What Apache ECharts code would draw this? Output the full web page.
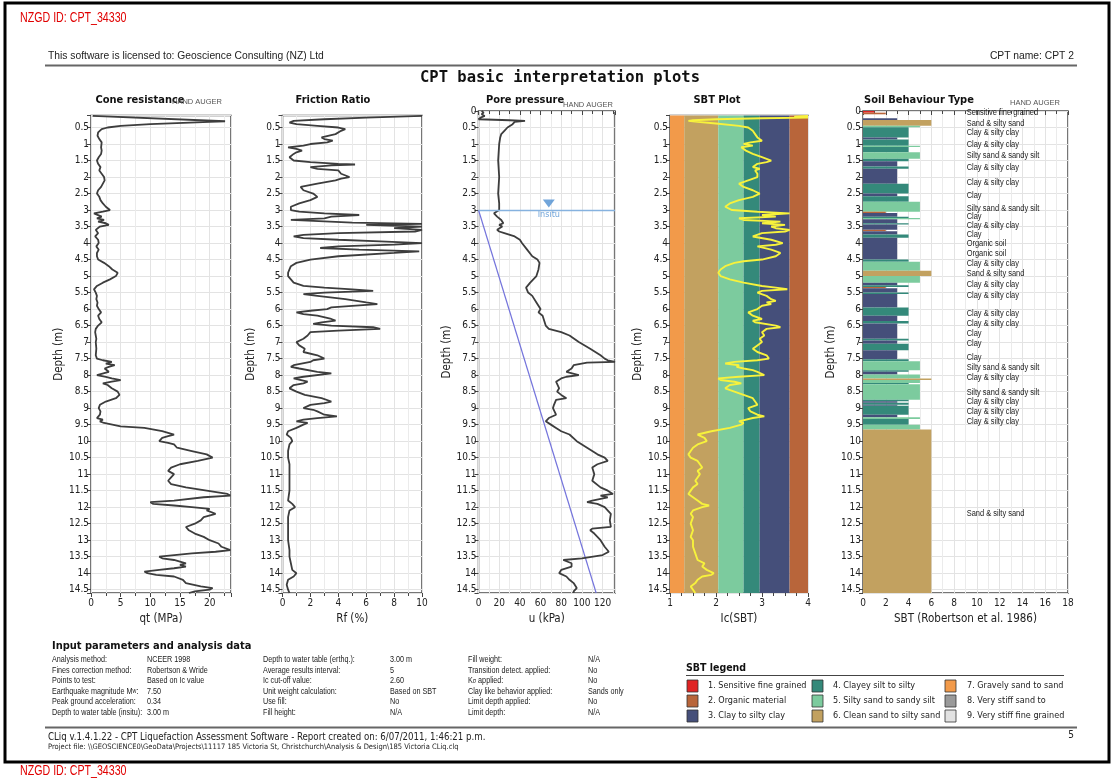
<!DOCTYPE html>
<html><head><meta charset="utf-8">
<script src="https://cdn.jsdelivr.net/npm/echarts@6.0.0/dist/echarts.min.js"></script>
<style>html,body{margin:0;padding:0;background:#fff}#c{width:1115px;height:783px}</style>
</head><body><div id="c"></div>
<script>
// ---------------- DATA ----------------
// [depth (m), qt (MPa)]
const coneProfile = [[0.15,0.3],[0.19,0.6],[0.31,22.6],[0.33,20],[0.4,10],[0.45,5],[0.5,2.8],[0.55,1.8],[0.65,1.2],[0.75,1.1],[0.85,1.4],[0.95,1.8],[1.0,1.9],[1.1,1.7],[1.2,1.8],[1.3,1.7],[1.4,1.3],[1.5,1.0],[1.6,1.2],[1.7,1.6],[1.8,1.4],[1.9,1.8],[2.0,2.2],[2.1,2.3],[2.2,2.0],[2.3,1.7],[2.4,1.2],[2.5,1.0],[2.6,1.4],[2.7,1.6],[2.8,2.0],[2.9,2.5],[3.0,3.2],[3.05,2.0],[3.1,0.5],[3.2,1.8],[3.25,1.0],[3.3,2.2],[3.35,1.2],[3.4,2.5],[3.45,3.0],[3.5,1.5],[3.6,0.8],[3.7,1.2],[3.8,0.7],[3.9,1.2],[4.0,1.3],[4.1,0.9],[4.2,1.3],[4.3,1.0],[4.4,1.0],[4.5,1.2],[4.6,2.2],[4.7,3.0],[4.8,3.6],[4.9,4.5],[5.0,4.2],[5.1,3.2],[5.2,2.0],[5.3,1.0],[5.4,0.5],[5.5,0.8],[5.6,1.0],[5.7,0.9],[5.8,1.1],[5.9,1.0],[6.0,1.3],[6.1,1.7],[6.2,1.2],[6.3,1.4],[6.4,1.8],[6.5,1.2],[6.6,0.8],[6.7,0.7],[6.8,0.8],[6.9,0.9],[7.0,0.8],[7.2,0.9],[7.4,0.8],[7.5,1.0],[7.55,2.0],[7.6,3.5],[7.65,2.5],[7.7,4.0],[7.75,3.0],[7.8,2.3],[7.9,3.0],[8.0,1.0],[8.05,2.5],[8.1,3.5],[8.15,5.0],[8.2,3.5],[8.25,2.0],[8.3,2.8],[8.4,3.5],[8.5,4.5],[8.6,4.8],[8.7,4.2],[8.8,2.5],[8.9,1.5],[9.0,1.3],[9.1,1.6],[9.2,1.5],[9.3,1.0],[9.35,2.0],[9.4,1.5],[9.45,2.2],[9.5,2.0],[9.55,5.0],[9.6,9.0],[9.7,12.0],[9.8,14.0],[9.85,13.0],[9.9,12.0],[10.0,11.5],[10.05,13.0],[10.1,14.0],[10.2,14.5],[10.3,17.0],[10.4,19.5],[10.5,20.5],[10.6,18.0],[10.7,15.0],[10.8,13.5],[10.9,13.0],[11.0,14.0],[11.1,13.5],[11.2,13.0],[11.3,13.5],[11.4,16.0],[11.5,19.5],[11.6,23.0],[11.65,23.5],[11.7,19.0],[11.8,14.0],[11.85,10.0],[11.9,10.5],[11.95,14.0],[12.0,17.0],[12.05,20.0],[12.1,19.5],[12.2,21.0],[12.3,19.0],[12.4,18.5],[12.5,17.5],[12.6,16.0],[12.7,16.5],[12.8,17.5],[12.9,19.0],[13.0,20.0],[13.1,21.5],[13.2,22.0],[13.3,23.5],[13.35,21.0],[13.4,17.0],[13.5,11.5],[13.55,12.0],[13.6,14.0],[13.7,16.0],[13.75,15.0],[13.8,16.0],[13.85,14.0],[13.9,11.5],[13.95,9.0],[14.0,9.5],[14.05,11.0],[14.1,14.0],[14.2,15.5],[14.3,16.0],[14.4,18.5],[14.45,20.5],[14.5,20.0],[14.55,17.5],[14.6,16.5]];

// [depth (m), Rf (%)]
const frictionProfile = [[0.15,10],[0.2,6],[0.25,3],[0.3,0.8],[0.35,0.5],[0.4,1.0],[0.45,2.5],[0.5,4.0],[0.55,4.5],[0.6,4.2],[0.7,3.8],[0.8,2.8],[0.85,3.0],[0.9,3.6],[0.95,3.2],[1.0,2.0],[1.05,1.5],[1.1,0.4],[1.15,1.0],[1.2,1.4],[1.25,1.0],[1.3,0.8],[1.4,0.5],[1.5,0.8],[1.55,2.0],[1.6,4.0],[1.62,5.2],[1.65,3.5],[1.7,2.0],[1.75,2.5],[1.8,4.0],[1.9,4.2],[2.0,4.8],[2.05,4.2],[2.1,3.8],[2.2,2.5],[2.3,1.3],[2.4,1.5],[2.5,2.2],[2.6,2.5],[2.7,2.0],[2.8,1.2],[2.9,0.6],[3.0,0.6],[3.05,1.2],[3.1,3.0],[3.15,5.5],[3.2,3.5],[3.25,3.0],[3.3,0.6],[3.35,0.5],[3.38,5.0],[3.42,10],[3.45,6.0],[3.5,10],[3.55,8.0],[3.6,10],[3.65,9.5],[3.7,4.0],[3.75,1.5],[3.8,0.8],[3.85,1.5],[3.9,4.0],[3.95,7.0],[4.0,10],[4.05,8.0],[4.1,4.0],[4.15,2.7],[4.2,5.5],[4.25,9.8],[4.3,8.0],[4.4,4.0],[4.5,2.0],[4.6,1.0],[4.7,0.6],[4.8,0.5],[4.9,0.4],[5.0,0.4],[5.1,0.6],[5.2,0.8],[5.3,1.5],[5.35,3.0],[5.4,5.0],[5.45,6.5],[5.5,3.0],[5.55,1.5],[5.6,2.5],[5.7,4.5],[5.8,6.0],[5.85,6.8],[5.9,5.0],[5.95,3.5],[6.0,3.2],[6.05,2.0],[6.1,1.0],[6.15,1.5],[6.2,2.5],[6.3,3.5],[6.35,3.8],[6.4,2.8],[6.45,2.2],[6.5,3.5],[6.55,6.5],[6.6,7.0],[6.65,4.0],[6.7,2.0],[6.8,1.8],[6.9,1.5],[7.0,1.0],[7.1,1.2],[7.2,1.6],[7.3,1.5],[7.4,2.5],[7.5,3.0],[7.55,2.2],[7.6,2.0],[7.7,0.8],[7.75,0.6],[7.8,1.2],[7.9,2.5],[7.95,3.5],[8.0,3.6],[8.05,1.5],[8.1,0.8],[8.2,1.8],[8.25,1.5],[8.3,0.8],[8.4,0.5],[8.5,1.0],[8.6,1.6],[8.7,2.8],[8.8,3.5],[8.85,3.0],[8.9,2.0],[9.0,1.5],[9.05,2.2],[9.1,2.5],[9.2,3.0],[9.25,3.9],[9.3,2.5],[9.35,1.5],[9.4,1.0],[9.45,1.8],[9.5,1.5],[9.6,1.0],[9.7,0.4],[9.8,0.3],[9.9,0.6],[10.0,0.7],[10.1,0.5],[10.3,0.4],[10.5,0.4],[10.7,0.5],[11.0,0.5],[11.5,0.5],[11.8,0.4],[11.9,0.7],[12.0,0.9],[12.1,0.5],[12.3,0.4],[12.6,0.4],[13.0,0.4],[13.3,0.5],[13.5,0.5],[13.7,0.6],[13.9,0.7],[14.0,1.0],[14.1,0.8],[14.2,0.4],[14.35,0.3],[14.5,0.4],[14.6,0.5]];

// [depth (m), u (kPa)]
const poreProfile = [[0,3],[0.05,5],[0.1,3],[0.15,6],[0.2,2],[0.25,0],[0.28,30],[0.3,45],[0.33,35],[0.4,33],[0.5,28],[0.6,25],[0.7,22],[0.8,21],[1.0,20],[1.5,19],[2.0,20],[2.5,19],[2.8,20],[3.0,20],[3.1,15],[3.2,18],[3.3,22],[3.4,24],[3.45,20],[3.5,23],[3.6,18],[3.65,20],[3.7,25],[3.8,35],[3.9,40],[4.0,42],[4.2,47],[4.4,52],[4.5,57],[4.6,59],[4.8,58],[5.0,56],[5.2,50],[5.35,46],[5.4,45],[5.5,48],[5.6,52],[5.8,56],[6.0,60],[6.1,58],[6.2,62],[6.3,63],[6.5,65],[6.6,68],[6.7,80],[6.8,88],[7.0,97],[7.2,108],[7.4,118],[7.5,122],[7.55,125],[7.6,132],[7.62,105],[7.7,92],[7.8,90],[7.9,85],[8.0,97],[8.05,85],[8.1,80],[8.2,75],[8.4,78],[8.5,76],[8.6,80],[8.7,85],[8.75,75],[8.9,73],[9.0,72],[9.2,75],[9.3,68],[9.4,65],[9.5,70],[9.6,75],[9.7,80],[9.8,88],[10.0,95],[10.2,105],[10.4,115],[10.5,122],[10.6,125],[10.7,115],[10.8,110],[11.0,112],[11.2,110],[11.4,118],[11.5,125],[11.6,130],[11.65,118],[11.7,125],[11.8,110],[11.85,105],[11.9,115],[12.0,122],[12.2,128],[12.4,127],[12.6,128],[12.65,110],[12.7,108],[12.8,112],[13.0,118],[13.2,122],[13.35,126],[13.45,120],[13.55,100],[13.6,82],[13.7,90],[13.8,90],[13.9,80],[14.0,78],[14.1,85],[14.2,88],[14.3,92],[14.45,95],[14.55,92],[14.6,92]];
// hydrostatic line [depth, u]
const hydroLine = [[3.0,0],[14.6,113.8]];
const waterDepth = 3.0;
const insituMarker = [68, 2.8];

// [depth (m), Ic]
const icProfile = [[0.15,4.0],[0.17,3.7],[0.2,4.0],[0.22,3.0],[0.25,2.0],[0.28,1.5],[0.3,1.4],[0.33,1.6],[0.38,2.0],[0.45,2.5],[0.5,2.7],[0.6,2.8],[0.7,2.85],[0.8,2.9],[0.9,3.0],[0.95,2.75],[1.0,2.6],[1.05,2.8],[1.1,2.55],[1.2,2.65],[1.3,2.8],[1.4,3.0],[1.5,3.2],[1.55,3.1],[1.6,2.9],[1.7,2.8],[1.75,2.95],[1.8,2.85],[1.9,2.9],[2.0,2.9],[2.1,2.7],[2.2,2.5],[2.3,2.6],[2.4,2.8],[2.5,2.95],[2.6,2.8],[2.7,2.5],[2.8,2.3],[2.9,2.2],[3.0,2.35],[3.05,2.9],[3.1,3.6],[3.15,3.0],[3.2,3.3],[3.25,2.5],[3.3,2.6],[3.35,3.4],[3.4,3.0],[3.45,3.5],[3.5,3.2],[3.55,3.3],[3.6,3.6],[3.65,3.5],[3.7,3.0],[3.8,2.8],[3.9,3.2],[4.0,3.45],[4.05,3.3],[4.1,2.9],[4.2,3.2],[4.3,3.4],[4.4,3.3],[4.5,3.0],[4.55,2.6],[4.6,2.4],[4.7,2.2],[4.8,2.1],[4.9,2.05],[5.0,2.1],[5.1,2.3],[5.2,2.6],[5.3,3.0],[5.35,3.3],[5.4,3.55],[5.45,3.0],[5.5,2.9],[5.6,3.1],[5.7,3.2],[5.75,3.3],[5.8,3.1],[5.85,3.2],[5.9,3.0],[6.0,2.9],[6.1,2.7],[6.2,2.8],[6.3,3.0],[6.35,2.8],[6.4,2.85],[6.5,3.3],[6.55,3.4],[6.6,3.1],[6.7,3.0],[6.8,3.05],[6.9,2.95],[7.0,3.0],[7.1,2.9],[7.2,2.8],[7.3,2.9],[7.4,3.1],[7.5,3.15],[7.55,2.9],[7.6,2.4],[7.65,2.2],[7.7,2.5],[7.75,2.45],[7.8,2.6],[7.85,2.8],[7.9,2.9],[8.0,3.05],[8.05,2.5],[8.1,2.05],[8.15,2.1],[8.2,2.4],[8.25,2.55],[8.3,2.3],[8.4,2.2],[8.5,2.4],[8.6,2.6],[8.7,2.8],[8.8,2.85],[8.9,2.9],[9.0,2.7],[9.1,2.75],[9.2,2.9],[9.25,3.05],[9.3,2.8],[9.4,2.5],[9.45,2.6],[9.5,2.55],[9.6,2.3],[9.7,1.9],[9.8,1.6],[9.9,1.75],[10.0,1.8],[10.1,1.6],[10.2,1.5],[10.3,1.45],[10.4,1.4],[10.5,1.45],[10.6,1.6],[10.7,1.65],[10.8,1.7],[10.9,1.6],[11.0,1.65],[11.1,1.6],[11.2,1.55],[11.3,1.6],[11.4,1.5],[11.5,1.45],[11.6,1.4],[11.7,1.5],[11.8,1.6],[11.9,1.7],[11.95,1.85],[12.0,1.7],[12.1,1.5],[12.2,1.45],[12.3,1.5],[12.5,1.45],[12.7,1.5],[12.9,1.45],[13.0,1.5],[13.2,1.5],[13.4,1.55],[13.6,1.6],[13.7,1.75],[13.8,1.7],[13.9,1.8],[14.0,1.95],[14.05,1.9],[14.1,1.7],[14.2,1.6],[14.3,1.55],[14.4,1.45],[14.5,1.5],[14.6,1.55]];
// Ic zone boundaries (left to right: zone 7,6,5,4,3,2)
const icBandLimits = [1, 1.31, 2.05, 2.6, 2.95, 3.6, 4];
const icBandZones = [7, 6, 5, 4, 3, 2];

// SBT layers: [top depth (m), zone]; each layer ends at the next top
const sbtLayers = [[0.00,1],[0.05,2],[0.10,0],[0.22,3],[0.27,6],[0.45,5],[0.49,4],[0.80,3],[0.86,4],[1.05,5],[1.09,4],[1.25,5],[1.45,4],[1.52,3],[1.68,4],[1.75,3],[2.20,4],[2.50,3],[2.58,4],[2.75,5],[3.05,2],[3.09,3],[3.20,4],[3.24,5],[3.28,3],[3.40,4],[3.44,3],[3.60,2],[3.64,3],[3.74,4],[3.84,3],[4.50,4],[4.57,5],[4.84,6],[5.00,5],[5.20,3],[5.28,4],[5.33,2],[5.37,3],[5.50,4],[5.54,3],[5.95,4],[6.20,3],[6.36,4],[6.44,3],[6.90,4],[6.95,3],[7.05,4],[7.25,3],[7.52,4],[7.58,5],[7.85,4],[7.90,3],[7.98,5],[8.10,6],[8.15,5],[8.24,4],[8.28,5],[8.75,4],[8.79,3],[8.84,4],[8.90,3],[8.93,4],[9.20,3],[9.28,5],[9.33,4],[9.50,5],[9.65,6]];
const sbtBottom = 14.6;
// SBT description labels [depth (m), text]
const sbtLabels = [[0.06,'Sensitive fine grained'],[0.39,'Sand & silty sand'],[0.67,'Clay & silty clay'],[1.01,'Clay & silty clay'],[1.34,'Silty sand & sandy silt'],[1.72,'Clay & silty clay'],[2.16,'Clay & silty clay'],[2.55,'Clay'],[2.95,'Silty sand & sandy silt'],[3.21,'Clay'],[3.47,'Clay & silty clay'],[3.74,'Clay'],[4.03,'Organic soil'],[4.32,'Organic soil'],[4.63,'Clay & silty clay'],[4.94,'Sand & silty sand'],[5.27,'Clay & silty clay'],[5.58,'Clay & silty clay'],[6.13,'Clay & silty clay'],[6.44,'Clay & silty clay'],[6.75,'Clay'],[7.06,'Clay'],[7.48,'Clay'],[7.77,'Silty sand & sandy silt'],[8.08,'Clay & silty clay'],[8.52,'Silty sand & sandy silt'],[8.80,'Clay & silty clay'],[9.12,'Clay & silty clay'],[9.42,'Clay & silty clay'],[12.19,'Sand & silty sand']];
const sbtLabelX = 9.1;

// Legend
const legendNames = ['1. Sensitive fine grained','2. Organic material','3. Clay to silty clay','4. Clayey silt to silty','5. Silty sand to sandy silt','6. Clean sand to silty sand','7. Gravely sand to sand','8. Very stiff sand to','9. Very stiff fine grained'];
const zoneColors = {1:'#e02424',2:'#b8653a',3:'#454f7a',4:'#34897a',5:'#7ccb9e',6:'#c2a160',7:'#f29a4a',8:'#9a9a9a',9:'#e2e2e2'};

// Input parameters table
const paramCol1 = [['Analysis method:','NCEER 1998'],['Fines correction method:','Robertson & Wride'],['Points to test:','Based on Ic value'],['{a|Earthquake magnitude M}{s|w}{a|:}','7.50'],['Peak ground acceleration:','0.34'],['Depth to water table (insitu):','3.00 m']];
const paramCol2 = [['Depth to water table (erthq.):','3.00 m'],['Average results interval:','5'],['Ic cut-off value:','2.60'],['Unit weight calculation:','Based on SBT'],['Use fill:','No'],['Fill height:','N/A']];
const paramCol3 = [['Fill weight:','N/A'],['Transition detect. applied:','No'],['{a|K}{s|σ}{a| applied:}','No'],['Clay like behavior applied:','Sands only'],['Limit depth applied:','No'],['Limit depth:','N/A']];

// ---------------- CHART ----------------
const F = "'DejaVu Sans Condensed','DejaVu Sans',sans-serif";
const N = "'Liberation Sans',Arial,sans-serif";
const chart = echarts.init(document.getElementById('c'), null, {width:1115, height:783});

const panels = [
  {left:91, width:140, min:0.14, xmin:0, xmax:23.6, iv:5, minor:2, name:'qt (MPa)'},
  {left:282.5, width:139.5, min:0.14, xmin:0, xmax:10, iv:2, minor:2, name:'Rf (%)'},
  {left:478.5, width:136.5, min:0, xmin:0, xmax:132, iv:20, minor:2, name:'u (kPa)'},
  {left:670, width:138, min:0.14, xmin:1, xmax:4, iv:1, minor:4, name:'Ic(SBT)'},
  {left:863, width:205, min:0, xmin:0, xmax:18, iv:2, minor:2, name:'SBT (Robertson et al. 1986)'}
];
const pxPerM = 482/14.6;
const grids = panels.map(p => ({left:p.left, width:p.width, top:111 + p.min*pxPerM, height:(14.6-p.min)*pxPerM,
  show:true, borderColor:'#4a4a4a', borderWidth:1.5, backgroundColor:'transparent'}));
const isMult = (v, m) => Math.abs(v/m - Math.round(v/m)) < 1e-6;
const yAxes = panels.map((p,i) => Object.assign({
  gridIndex:i, type:'value', inverse:true, min:p.min, max:14.6,
  name:'Depth (m)', nameLocation:'middle', nameGap:24,
  nameTextStyle:{fontFamily:F, fontSize:11.5, color:'#222'},
  axisLine:{show:false}, axisTick:{show:true, length:4, lineStyle:{color:'#444'}},
  axisLabel:{fontFamily:F, fontSize:10, color:'#222', margin:2,
    formatter: v => (isMult(v,0.5) && v <= 14.5 + 1e-6) ? String(+v.toFixed(1)) : ''},
  splitLine:{show:true, lineStyle:{color:'#e3e3e3', width:1}}
}, p.min === 0 ? {interval:0.5} : {splitNumber:29, minInterval:0.5, maxInterval:0.5}));
const xAxes = panels.map((p,i) => ({
  gridIndex:i, type:'value', min:p.xmin, max:p.xmax, interval:p.iv, position:'bottom',
  name:p.name, nameLocation:'middle', nameGap:19,
  nameTextStyle:{fontFamily:F, fontSize:11.5, color:'#222'},
  axisLine:{show:false}, axisTick:{show:true, length:4, lineStyle:{color:'#444'}},
  minorTick:{show:true, splitNumber:p.minor, length:3, lineStyle:{color:'#444'}},
  minorSplitLine:{show:true, lineStyle:{color:'#ebebeb', width:1}},
  splitLine:{show:true, lineStyle:{color:'#e3e3e3', width:1}},
  axisLabel:{fontFamily:F, fontSize:10, color:'#222', margin:5,
    formatter: v => (isMult(v - p.xmin, p.iv)) ? String(v) : ''}
}));

const curve = (i, pts, color, w, z) => ({
  type:'line', xAxisIndex:i, yAxisIndex:i, data: pts.map(d => [d[1], d[0]]),
  showSymbol:false, symbol:'none', clip:true, z: z||3, silent:true,
  lineStyle:{color, width:w}
});

const series = [];
series.push(curve(0, coneProfile, '#3d3d3d', 1.8));
series.push(curve(1, frictionProfile, '#3d3d3d', 1.8));
const pore = curve(2, poreProfile, '#3d3d3d', 1.8);
pore.markLine = {silent:true, symbol:'none', label:{show:false}, animation:false,
  lineStyle:{color:'#86b2df', width:1.3, type:'solid'}, data:[{yAxis:waterDepth}]};
series.push(pore);
series.push(curve(2, hydroLine, '#7474dc', 1.2, 2));
series.push({type:'scatter', xAxisIndex:2, yAxisIndex:2, data:[insituMarker], symbol:'triangle', symbolRotate:180,
  symbolSize:[12,8], itemStyle:{color:'#4d8fd1'}, z:4, silent:true,
  label:{show:true, position:'bottom', distance:3, formatter:'Insitu', color:'#4d8fd1', fontFamily:F, fontSize:9}});
// SBT plot bands
series.push({type:'custom', xAxisIndex:3, yAxisIndex:3, z:1, silent:true,
  data: icBandZones.map((z,k) => [icBandLimits[k], icBandLimits[k+1], 5]),
  encode:{x:[0,1], y:2},
  renderItem:(params, api) => {
    const cs = params.coordSys;
    const x0 = api.coord([api.value(0), 5])[0], x1 = api.coord([api.value(1), 5])[0];
    return {type:'rect', shape:{x:x0, y:cs.y, width:x1-x0, height:cs.height},
      style:{fill: zoneColors[icBandZones[params.dataIndex]]}};
  }});
series.push(curve(3, icProfile, '#f7f23c', 1.9, 5));
// SBT type bars
series.push({type:'custom', xAxisIndex:4, yAxisIndex:4, z:2, silent:true, clip:true,
  data: sbtLayers.map((l,k) => [l[0], k+1 < sbtLayers.length ? sbtLayers[k+1][0] : sbtBottom, l[1]]),
  encode:{y:[0,1], x:2},
  renderItem:(params, api) => {
    const zone = api.value(2);
    if (!zone) return null;
    const p0 = api.coord([0, api.value(0)]), p1 = api.coord([zone, api.value(1)]);
    return {type:'rect', shape:{x:p0[0], y:p0[1], width:p1[0]-p0[0], height:p1[1]-p0[1]},
      style:{fill: zoneColors[zone]}};
  }});
series.push({type:'custom', xAxisIndex:4, yAxisIndex:4, z:4, silent:true,
  data: sbtLabels.map(l => [sbtLabelX, l[0]]), encode:{x:0, y:1},
  renderItem:(params, api) => {
    const p = api.coord([api.value(0), api.value(1)]);
    return {type:'text', x:p[0], y:p[1], scaleX:0.88, style:{text: sbtLabels[params.dataIndex][1], fill:'#222',
      font:"8.5px " + N, verticalAlign:'middle', align:'left'}};
  }});

// ---------------- PAGE GRAPHICS ----------------
const g = [];
const txt = (x, y, text, font, fill, align, extra, sx) => g.push({type:'text', x, y, silent:true, scaleX: sx||1,
  style:Object.assign({text, font, fill: fill||'#222', align: align||'left', verticalAlign:'middle'}, extra||{})});
const hline = (x1, x2, y, color, w) => g.push({type:'line', silent:true, shape:{x1, y1:y, x2, y2:y}, style:{stroke:color, lineWidth:w}});

g.push({type:'rect', silent:true, shape:{x:5, y:3, width:1104, height:759}, style:{fill:'none', stroke:'#000', lineWidth:3}});
txt(20, 18, 'NZGD ID: CPT_34330', '15px ' + N, '#e00000', 'left', null, 0.71);
txt(20, 771, 'NZGD ID: CPT_34330', '15px ' + N, '#e00000', 'left', null, 0.71);
txt(48, 56, 'This software is licensed to: Geoscience Consulting (NZ) Ltd', '10.3px ' + N, '#222');
txt(1074, 56, 'CPT name: CPT 2', '10.3px ' + N, '#222', 'right');
hline(45, 1077, 65.5, '#666', 2);
txt(560, 78, 'CPT basic interpretation plots', "bold 15.5px 'DejaVu Sans Mono',monospace", '#111', 'center');
const titles = [[140,'Cone resistance'],[333,'Friction Ratio'],[525,'Pore pressure'],[717,'SBT Plot'],[919,'Soil Behaviour Type']];
titles.forEach(t => txt(t[0], 100, t[1], 'bold 11px ' + F, '#111', 'center'));
txt(172, 102, 'HAND AUGER', "7.5px 'Liberation Sans',sans-serif", '#555');
txt(563, 105, 'HAND AUGER', "7.5px 'Liberation Sans',sans-serif", '#555');
txt(1010, 103, 'HAND AUGER', "7.5px 'Liberation Sans',sans-serif", '#555');

// Input parameters
txt(52, 646, 'Input parameters and analysis data', 'bold 11px ' + F, '#111');
const rowY = k => 660 + k*10.5;
const TF = '8.8px ' + N;
const TS = 0.82;
const richStyle = {rich:{a:{font:TF, fill:'#222'}, s:{font:'6.5px ' + N, fill:'#222'}}};
const cols = [[paramCol1, 52, 147],[paramCol2, 263, 390],[paramCol3, 468, 588]];
cols.forEach(c => c[0].forEach((r,k) => {
  if (r[0].indexOf('{') === 0) txt(c[1], rowY(k), r[0], TF, '#222', 'left', richStyle, TS);
  else txt(c[1], rowY(k), r[0], TF, '#222', 'left', null, TS);
  txt(c[2], rowY(k), r[1], TF, '#222', 'left', null, TS);
}));
hline(45, 1077, 727.5, '#666', 2);
txt(48, 737, 'CLiq v.1.4.1.22 - CPT Liquefaction Assessment Software - Report created on: 6/07/2011, 1:46:21 p.m.', '9.6px ' + F, '#222');
txt(48, 747, 'Project file: \\\\GEOSCIENCE0\\GeoData\\Projects\\11117 185 Victoria St, Christchurch\\Analysis & Design\\185 Victoria CLiq.clq', '7.5px ' + F, '#222');
txt(1074, 735, '5', '10px ' + F, '#222', 'right');

// SBT legend
txt(686, 668, 'SBT legend', 'bold 10.5px ' + F, '#111');
hline(686, 1064, 675.5, '#444', 1);
const lgX = [[687,708],[812,833],[945,967]];
legendNames.forEach((name, k) => {
  const col = Math.floor(k/3), row = k % 3, y = 686 + row*15;
  g.push({type:'rect', silent:true, shape:{x:lgX[col][0], y:y-6, width:11, height:12},
    style:{fill: zoneColors[k+1], stroke:'#333', lineWidth:0.8}});
  txt(lgX[col][1], y, name, '9px ' + F, '#222');
});

chart.setOption({
  animation:false,
  backgroundColor:'#fff',
  grid: grids, xAxis: xAxes, yAxis: yAxes, series,
  graphic: g
});
</script></body></html>
